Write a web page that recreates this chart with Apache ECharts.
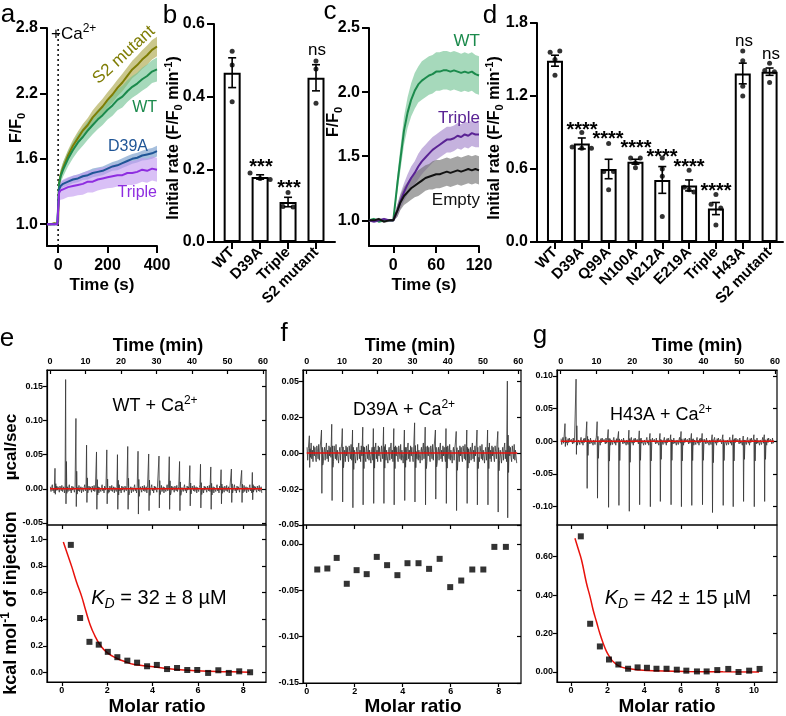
<!DOCTYPE html>
<html>
<head>
<meta charset="utf-8">
<script src="https://cdn.jsdelivr.net/npm/echarts@6.0.0/dist/echarts.min.js"></script>
<style>
html, body { margin: 0; padding: 0; background: #fff; }
#chart { width: 786px; height: 716px; }
</style>
</head>
<body>
<div id="chart"></div>
<script>
const F = '"Liberation Sans", Arial, Helvetica, sans-serif'

// ---- a: F/F0 traces
const aTime = [-45, -30, -15, -3, 0, 4, 10, 20, 40, 60, 80, 100, 120, 140, 160, 180, 200, 220, 240, 260, 280, 300, 320, 340, 360, 380, 400]
const aS2 = [1.0, 1.0, 1.01, 1.0, 1.02, 1.38, 1.45, 1.52, 1.63, 1.72, 1.79, 1.86, 1.91, 1.98, 2.03, 2.08, 2.14, 2.19, 2.25, 2.30, 2.36, 2.42, 2.46, 2.51, 2.55, 2.60, 2.63]
const aS2Err = [0.005, 0.005, 0.005, 0.005, 0.01, 0.04, 0.045, 0.05, 0.05, 0.055, 0.06, 0.06, 0.065, 0.065, 0.07, 0.07, 0.07, 0.075, 0.075, 0.08, 0.08, 0.08, 0.085, 0.085, 0.09, 0.09, 0.09]
const aWT = [1.0, 1.0, 1.0, 1.01, 1.02, 1.37, 1.44, 1.50, 1.60, 1.68, 1.75, 1.80, 1.86, 1.91, 1.96, 2.00, 2.05, 2.09, 2.14, 2.17, 2.22, 2.26, 2.29, 2.33, 2.36, 2.40, 2.42]
const aWTErr = [0.005, 0.005, 0.005, 0.005, 0.01, 0.05, 0.06, 0.065, 0.07, 0.075, 0.08, 0.08, 0.085, 0.085, 0.09, 0.09, 0.09, 0.095, 0.095, 0.1, 0.1, 0.1, 0.1, 0.105, 0.105, 0.105, 0.11]
const aD39A = [1.0, 1.0, 1.0, 1.0, 1.01, 1.32, 1.35, 1.37, 1.39, 1.41, 1.42, 1.44, 1.45, 1.47, 1.48, 1.49, 1.51, 1.53, 1.54, 1.56, 1.58, 1.60, 1.61, 1.63, 1.64, 1.65, 1.67]
const aD39AErr = [0.005, 0.005, 0.005, 0.005, 0.01, 0.03, 0.03, 0.03, 0.035, 0.035, 0.035, 0.035, 0.04, 0.04, 0.04, 0.04, 0.04, 0.04, 0.045, 0.045, 0.045, 0.045, 0.045, 0.045, 0.05, 0.05, 0.05]
const aTriple = [1.0, 1.0, 1.0, 1.0, 1.01, 1.29, 1.31, 1.32, 1.34, 1.35, 1.36, 1.37, 1.39, 1.39, 1.41, 1.42, 1.43, 1.44, 1.45, 1.45, 1.47, 1.47, 1.48, 1.50, 1.49, 1.51, 1.50]
const aTripleErr = [0.005, 0.005, 0.005, 0.005, 0.01, 0.08, 0.085, 0.09, 0.09, 0.095, 0.095, 0.1, 0.1, 0.1, 0.1, 0.1, 0.1, 0.105, 0.105, 0.105, 0.11, 0.11, 0.11, 0.11, 0.11, 0.11, 0.11]

// ---- b: initial rates
const bCats = ['WT', 'D39A', 'Triple', 'S2 mutant']
const bMean = [0.466, 0.179, 0.110, 0.452]
const bSem = [0.041, 0.006, 0.013, 0.036]
const bDots = [[0.525, 0.487, 0.386], [0.19, 0.175, 0.172], [0.136, 0.098, 0.096], [0.498, 0.476, 0.382]]

// ---- c: F/F0 traces, liposomes
const cTime = [-34, -27, -20, -13, -6, 0, 3, 6, 10, 15, 20, 25, 30, 35, 40, 45, 50, 55, 60, 65, 70, 75, 80, 85, 90, 95, 100, 105, 110, 115, 120]
const cWT = [1.0, 1.01, 0.99, 1.0, 1.0, 1.0, 1.15, 1.30, 1.48, 1.70, 1.84, 1.94, 2.01, 2.06, 2.09, 2.11, 2.13, 2.14, 2.16, 2.16, 2.17, 2.17, 2.16, 2.17, 2.16, 2.15, 2.16, 2.15, 2.16, 2.14, 2.13]
const cWTErr = [0.01, 0.01, 0.01, 0.01, 0.01, 0.01, 0.04, 0.07, 0.09, 0.11, 0.12, 0.13, 0.14, 0.14, 0.15, 0.15, 0.15, 0.15, 0.15, 0.15, 0.15, 0.15, 0.15, 0.15, 0.15, 0.15, 0.15, 0.15, 0.15, 0.15, 0.15]
const cTriple = [1.0, 0.99, 1.0, 1.01, 1.0, 1.0, 1.04, 1.08, 1.15, 1.22, 1.28, 1.33, 1.37, 1.42, 1.46, 1.49, 1.52, 1.55, 1.57, 1.59, 1.61, 1.63, 1.63, 1.64, 1.66, 1.65, 1.67, 1.66, 1.68, 1.67, 1.67]
const cTripleErr = [0.01, 0.01, 0.01, 0.01, 0.01, 0.01, 0.03, 0.05, 0.06, 0.07, 0.08, 0.09, 0.09, 0.1, 0.1, 0.1, 0.1, 0.1, 0.1, 0.1, 0.1, 0.1, 0.1, 0.1, 0.1, 0.1, 0.1, 0.1, 0.1, 0.1, 0.1]
const cEmpty = [1.0, 1.0, 1.01, 0.99, 1.0, 1.0, 1.04, 1.08, 1.14, 1.19, 1.22, 1.25, 1.27, 1.29, 1.31, 1.33, 1.34, 1.35, 1.36, 1.36, 1.37, 1.38, 1.37, 1.38, 1.39, 1.38, 1.39, 1.40, 1.39, 1.40, 1.39]
const cEmptyErr = [0.01, 0.01, 0.01, 0.01, 0.01, 0.01, 0.03, 0.05, 0.06, 0.07, 0.08, 0.09, 0.09, 0.1, 0.1, 0.1, 0.1, 0.11, 0.11, 0.11, 0.11, 0.11, 0.11, 0.11, 0.11, 0.11, 0.11, 0.11, 0.11, 0.11, 0.11]

// ---- d: initial rates, mutants
const dCats = ['WT', 'D39A', 'Q99A', 'N100A', 'N212A', 'E219A', 'Triple', 'H43A', 'S2 mutant']
const dMean = [1.49, 0.81, 0.60, 0.66, 0.51, 0.465, 0.275, 1.385, 1.40]
const dSem = [0.045, 0.045, 0.08, 0.02, 0.11, 0.045, 0.05, 0.085, 0.03]
const dDots = [[1.56, 1.57, 1.50, 1.37], [0.90, 0.78, 0.77, 0.77], [0.81, 0.58, 0.58, 0.43], [0.69, 0.69, 0.65, 0.61],
  [0.69, 0.60, 0.54, 0.21], [0.59, 0.45, 0.43, 0.41], [0.39, 0.31, 0.28, 0.14], [1.57, 1.49, 1.28, 1.20], [1.47, 1.41, 1.40, 1.31]]

// ---- e-g: ITC, raw injections (min) and heat (kcal/mol)
const eInj = [1.4, 4.4, 7.3, 10.3, 13.1, 16.0, 19.0, 21.9, 24.8, 27.8, 30.7, 33.6, 36.5, 39.4, 42.4, 45.3, 48.2, 51.1, 54.0, 57.0]
const eUp = [0.030, 0.160, 0.103, 0.064, 0.054, 0.057, 0.050, 0.062, 0.055, 0.051, 0.048, 0.047, 0.040, 0.034, 0.036, 0.032, 0.028, 0.029, 0.027, 0.024]
const eDown = [-0.008, -0.022, -0.026, -0.02, -0.03, -0.022, -0.03, -0.03, -0.037, -0.032, -0.028, -0.03, -0.032, -0.025, -0.028, -0.03, -0.022, -0.02, -0.02, -0.016]
const eWiggle = [0.003, -0.004, 0.002, 0.006, -0.003, 0.001, -0.006, 0.004, -0.002, 0.003, -0.001, -0.005, 0.004, 0.002, -0.003, 0.005, -0.004, 0.0, 0.003, -0.006, 0.002]
const eRatio = [0.40, 0.81, 1.22, 1.63, 2.03, 2.45, 2.89, 3.32, 3.76, 4.19, 4.64, 5.08, 5.53, 5.97, 6.45, 6.90, 7.36, 7.82, 8.30]
const eHeat = [0.958, 0.41, 0.231, 0.21, 0.156, 0.116, 0.09, 0.075, 0.048, 0.058, 0.027, 0.035, 0.02, 0.02, -0.002, 0.018, -0.002, 0.01, 0.003]
const eFitX = [0.07, 0.25, 0.44, 0.65, 0.88, 1.05, 1.25, 1.45, 1.69, 2.0, 2.42, 2.8, 3.15, 3.6, 4.04, 4.7, 5.36, 6.5, 7.5, 8.3]
const eFitY = [0.98, 0.89, 0.795, 0.68, 0.57, 0.47, 0.36, 0.28, 0.208, 0.15, 0.108, 0.082, 0.063, 0.052, 0.045, 0.03, 0.02, 0.01, 0.006, 0.003]

const fInj = [0.75, 4.2, 7.1, 10.1, 13.0, 15.9, 18.9, 21.8, 24.7, 27.7, 30.6, 33.6, 36.5, 39.5, 42.4, 45.4, 48.3, 51.3, 54.2, 56.9]
const fUp = [0.012, 0.016, 0.02, 0.017, 0.016, 0.018, 0.017, 0.018, 0.017, 0.016, 0.021, 0.018, 0.016, 0.017, 0.015, 0.016, 0.016, 0.016, 0.015, 0.05]
const fDown = [-0.01, -0.028, -0.033, -0.034, -0.038, -0.036, -0.035, -0.035, -0.036, -0.033, -0.034, -0.036, -0.032, -0.035, -0.04, -0.035, -0.036, -0.036, -0.041, -0.045]
const fWiggle = [0.004, -0.005, 0.003, 0.007, -0.004, 0.002, -0.006, 0.005, -0.002, 0.004, -0.003, -0.006, 0.005, 0.001, -0.004, 0.006, -0.005, 0.002, 0.003, -0.007, 0.001]
const fRatio = [0.44, 0.86, 1.25, 1.67, 2.08, 2.5, 2.92, 3.35, 3.78, 4.2, 4.66, 5.1, 5.54, 5.98, 6.44, 6.9, 7.36, 7.82, 8.3]
const fHeat = [-0.0276, -0.0265, -0.0151, -0.043, -0.0283, -0.0326, -0.014, -0.0229, -0.0337, -0.0208, -0.0208, -0.0269, -0.0161, -0.0466, -0.0395, -0.0276, -0.0276, -0.0032, -0.0032]

const gInj = [1.2, 4.3, 7.3, 10.2, 13.3, 16.2, 19.1, 22.0, 25.0, 27.8, 30.8, 33.7, 36.6, 39.6, 42.4, 45.4, 48.2, 51.1, 54.1, 57.0]
const gUp = [0.027, 0.095, 0.03, 0.03, 0.018, 0.015, 0.017, 0.016, 0.012, 0.012, 0.01, 0.015, 0.012, 0.012, 0.01, 0.01, 0.01, 0.008, 0.01, 0.01]
const gDown = [-0.008, -0.02, -0.072, -0.087, -0.101, -0.098, -0.107, -0.097, -0.1, -0.092, -0.097, -0.1, -0.098, -0.097, -0.109, -0.098, -0.1, -0.092, -0.1, -0.092]
const gWiggle = [0.004, -0.005, 0.002, 0.006, -0.003, 0.001, -0.006, 0.004, -0.002, 0.005, -0.001, -0.004, 0.003, 0.002, -0.004, 0.005, -0.003, 0.001, 0.004, -0.006, 0.002]
const gRatio = [0.54, 1.05, 1.58, 2.08, 2.59, 3.12, 3.64, 4.15, 4.67, 5.22, 5.78, 6.3, 6.88, 7.41, 7.99, 8.59, 9.15, 9.73, 10.3]
const gHeat = [0.706, 0.251, 0.133, 0.065, 0.039, 0.017, 0.024, 0.022, 0.017, 0.017, 0.012, 0.007, 0.003, 0.003, 0.01, 0.016, 0.0, 0.007, 0.016]
const gFitX = [0.22, 0.4, 0.58, 0.85, 1.05, 1.21, 1.4, 1.58, 1.76, 1.94, 2.12, 2.3, 2.66, 3.1, 3.57, 4.5, 6.29, 8.3, 10.27]
const gFitY = [0.696, 0.64, 0.583, 0.462, 0.39, 0.324, 0.26, 0.2, 0.15, 0.107, 0.078, 0.055, 0.029, 0.018, 0.012, 0.006, 0.003, 0.001, 0.0]

const T60 = [0, 10, 20, 30, 40, 50, 60]

const chart = echarts.init(document.getElementById('chart'))

const grids = [
  { left: 47, top: 28, width: 110, height: 218 },   // a
  { left: 214, top: 24, width: 121, height: 218 },  // b
  { left: 369, top: 28, width: 110, height: 218 },  // c
  { left: 537, top: 23, width: 246, height: 219 },  // d
  { left: 47, top: 370, width: 219, height: 155 },  // e top
  { left: 47, top: 525, width: 219, height: 157 },  // e bottom
  { left: 303, top: 370, width: 218, height: 155 }, // f top
  { left: 303, top: 525, width: 218, height: 158 }, // f bottom
  { left: 557, top: 370, width: 220, height: 155 }, // g top
  { left: 557, top: 525, width: 220, height: 157 }  // g bottom
].map((g, i) => Object.assign(g, {
  containLabel: false, outerBoundsMode: 'none',
  show: i >= 4, borderColor: '#000', borderWidth: 1.2, backgroundColor: 'transparent'
}))

const xAxis = []
const yAxis = []
const X = o => xAxis.push(o) - 1
const Y = o => yAxis.push(o) - 1

function ax(grid, min, max, ticks, o = {}) {
  return {
    gridIndex: grid, type: 'value', min, max, position: o.pos,
    axisLine: { show: o.line !== false, onZero: false, lineStyle: { color: '#000', width: o.lw || 2 } },
    axisTick: { show: true, inside: !!o.inside, length: o.tl || 7, customValues: ticks, lineStyle: { color: '#000', width: o.lw || 2 } },
    axisLabel: {
      show: !!o.fmt, customValues: ticks, formatter: o.fmt, rotate: o.rot || 0, margin: o.margin || 9,
      color: '#000', fontFamily: F, fontWeight: 'bold', fontSize: o.fs || 16
    },
    splitLine: { show: false }
  }
}

const fix1 = v => v.toFixed(1)
const fix2 = v => v.toFixed(2)

const aX = X(ax(0, -45, 400, [0, 200, 400], { fmt: String, margin: 12 }))
const aY = Y(ax(0, 0.8, 2.8, [1.0, 1.6, 2.2, 2.8], { fmt: fix1 }))
const bX = X(ax(1, -0.65, 3.68, [0, 1, 2, 3], { fmt: v => bCats[v], rot: 45, fs: 15, margin: 8 }))
const bY = Y(ax(1, 0, 0.6, [0, 0.2, 0.4, 0.6], { fmt: fix1 }))
const cX = X(ax(2, -34, 120, [0, 60, 120], { fmt: String, margin: 12 }))
const cY = Y(ax(2, 0.8, 2.5, [1.0, 1.5, 2.0, 2.5], { fmt: fix1 }))
const dX = X(ax(3, -0.67, 8.5, [0, 1, 2, 3, 4, 5, 6, 7, 8], { fmt: v => dCats[v], rot: 45, fs: 15, margin: 8 }))
const dY = Y(ax(3, 0, 1.8, [0, 0.6, 1.2, 1.8], { fmt: fix1 }))

const it = { lw: 1.2, tl: 4, fs: 9, margin: 4 }
const fLabels = { '-0.05': '-0.05', '-0.025': '-0.02', '0': '0.00', '0.025': '0.02', '0.05': '0.05' }

function itcAxes(gTop, gBot, tRange, uRange, uTicks, uFmt, mRange, mTicks, lRange, lTicks, lFmt) {
  const tx = X(ax(gTop, tRange[0], tRange[1], T60, { ...it, pos: 'top', inside: true, fmt: String }))
  const uy = Y(ax(gTop, uRange[0], uRange[1], uTicks, { ...it, pos: 'left', fmt: uFmt }))
  Y(ax(gTop, uRange[0], uRange[1], uTicks, { ...it, pos: 'right', inside: true, line: false }))
  const mx = X(ax(gBot, mRange[0], mRange[1], mTicks, { ...it, pos: 'bottom', fmt: String }))
  X(ax(gBot, mRange[0], mRange[1], mTicks, { ...it, pos: 'top', inside: true, line: false }))
  const ly = Y(ax(gBot, lRange[0], lRange[1], lTicks, { ...it, pos: 'left', fmt: lFmt }))
  Y(ax(gBot, lRange[0], lRange[1], lTicks, { ...it, pos: 'right', inside: true, line: false }))
  return { tx, uy, mx, ly }
}

const eAx = itcAxes(4, 5, [-0.85, 60.85], [-0.053, 0.174], [-0.05, 0, 0.05, 0.10, 0.15], fix2,
  [-0.65, 9.0], [0, 2, 4, 6, 8], [-0.07, 1.107], [0, 0.2, 0.4, 0.6, 0.8, 1.0], fix1)
const fAx = itcAxes(6, 7, [-1.05, 60.77], [-0.05, 0.0577], [-0.05, -0.025, 0, 0.025, 0.05], v => fLabels[String(v)],
  [-0.154, 8.93], [0, 2, 4, 6, 8], [-0.15, 0.0204], [-0.15, -0.10, -0.05, 0], fix2)
const gAx = itcAxes(8, 9, [-1.04, 60.56], [-0.128, 0.109], [-0.10, -0.05, 0, 0.05, 0.10], fix2,
  [-0.76, 11.25], [0, 2, 4, 6, 8, 10], [-0.052, 0.765], [0, 0.2, 0.4, 0.6], fix2)

// ---------- series helpers
// mean ± sem band as one polygon, placed through the axes
function band(xi, yi, t, mean, err, color) {
  return {
    type: 'custom', xAxisIndex: xi, yAxisIndex: yi, silent: true, z: 1, clip: true,
    data: [[t[0], mean[0]]],
    renderItem(params, api) {
      const upper = t.map((x, i) => api.coord([x, mean[i] + err[i]]))
      const lower = t.map((x, i) => api.coord([x, mean[i] - err[i]])).reverse()
      return { type: 'polygon', shape: { points: upper.concat(lower) }, style: { fill: color, opacity: 0.62 } }
    }
  }
}
function trace(xi, yi, t, mean, color) {
  return { type: 'line', xAxisIndex: xi, yAxisIndex: yi, symbol: 'none', z: 4,
    lineStyle: { color, width: 2 }, data: t.map((x, i) => [x, mean[i]]) }
}
function bars(xi, yi, mean, w) {
  return { type: 'bar', xAxisIndex: xi, yAxisIndex: yi, barWidth: w, z: 2,
    itemStyle: { color: '#fff', borderColor: '#000', borderWidth: 2 },
    data: mean.map((v, i) => [i, v]) }
}
function errBars(xi, yi, mean, sem, cap) {
  return {
    type: 'custom', xAxisIndex: xi, yAxisIndex: yi, z: 5,
    encode: { x: 0, y: [1, 2] },
    data: mean.map((m, i) => [i, m - sem[i], m + sem[i]]),
    renderItem(params, api) {
      const lo = api.coord([api.value(0), api.value(1)])
      const hi = api.coord([api.value(0), api.value(2)])
      const st = { stroke: '#000', lineWidth: 1.6 }
      return { type: 'group', children: [
        { type: 'line', shape: { x1: lo[0], y1: lo[1], x2: hi[0], y2: hi[1] }, style: st },
        { type: 'line', shape: { x1: lo[0] - cap, y1: lo[1], x2: lo[0] + cap, y2: lo[1] }, style: st },
        { type: 'line', shape: { x1: hi[0] - cap, y1: hi[1], x2: hi[0] + cap, y2: hi[1] }, style: st }
      ] }
    }
  }
}
// spread dots sideways when values nearly coincide
function swarm(vals, thr) {
  return vals.map((v, i) => {
    const near = vals.map((w, j) => [w, j]).filter(([w]) => Math.abs(w - v) < thr)
    if (near.length < 2) return 0
    const k = near.findIndex(([, j]) => j === i)
    return (k - (near.length - 1) / 2) * 0.36
  })
}
function dots(xi, yi, groups, thr) {
  const data = []
  groups.forEach((vals, i) => {
    const off = swarm(vals, thr)
    vals.forEach((v, j) => data.push([i + off[j], v]))
  })
  return { type: 'scatter', xAxisIndex: xi, yAxisIndex: yi, symbolSize: 5, z: 6,
    itemStyle: { color: '#000' }, data }
}
function itcTrace(inj, up, dn, wig) {
  const pts = []
  let k = 0
  const nextWig = () => wig[k++ % wig.length]
  for (let t = 0.1; t < inj[0] - 0.2; t += 0.18) pts.push([t, nextWig()])
  inj.forEach((t0, i) => {
    pts.push([t0, up[i]])
    pts.push([t0 + 0.1, dn[i]])
    pts.push([t0 + 0.22, up[i] * 0.25])
    pts.push([t0 + 0.34, dn[i] * 0.3])
    const end = i + 1 < inj.length ? inj[i + 1] - 0.15 : 59.7
    for (let t = t0 + 0.5; t < end; t += 0.18) pts.push([t, nextWig()])
  })
  return pts
}
function itcSeries(axs, inj, up, dn, wig, ratio, heat, fitX, fitY) {
  const s = [
    { type: 'line', xAxisIndex: axs.tx, yAxisIndex: axs.uy, symbol: 'none', z: 3,
      lineStyle: { color: '#333', width: 0.8 }, data: itcTrace(inj, up, dn, wig) },
    { type: 'line', xAxisIndex: axs.tx, yAxisIndex: axs.uy, symbol: 'none', z: 4,
      lineStyle: { color: '#e8120c', width: 1.6 }, data: [[0, 0], [59.7, 0]] },
    { type: 'scatter', xAxisIndex: axs.mx, yAxisIndex: axs.ly, symbol: 'rect', symbolSize: 6, z: 5,
      itemStyle: { color: '#000' }, data: ratio.map((x, i) => [x, heat[i]]) }
  ]
  if (fitX) {
    s.push({ type: 'line', xAxisIndex: axs.mx, yAxisIndex: axs.ly, symbol: 'none', smooth: true, z: 4,
      lineStyle: { color: '#e8120c', width: 1.5 }, data: fitX.map((x, i) => [x, fitY[i]]) })
  }
  return s
}

const colS2 = '#7f7d05', colS2b = '#aaa545'
const colWT = '#1b8a4c', colWTb = '#6fc191'
const colD39 = '#1f5596', colD39b = '#6f98c8'
const colTri = '#8e2de0', colTrib = '#c29af0'
const colTri2 = '#5a2394', colTri2b = '#a283c9'
const colEmp = '#111111', colEmpb = '#6e6e6e'

const series = [
  band(aX, aY, aTime, aS2, aS2Err, colS2b),
  band(aX, aY, aTime, aWT, aWTErr, colWTb),
  band(aX, aY, aTime, aD39A, aD39AErr, colD39b),
  band(aX, aY, aTime, aTriple, aTripleErr, colTrib),
  trace(aX, aY, aTime, aS2, colS2),
  trace(aX, aY, aTime, aWT, colWT),
  trace(aX, aY, aTime, aD39A, colD39),
  trace(aX, aY, aTime, aTriple, colTri),
  { type: 'line', xAxisIndex: aX, yAxisIndex: aY, symbol: 'none', z: 1,
    lineStyle: { color: '#000', width: 1.5, type: [2, 3] }, data: [[0, 0.8], [0, 2.8]] },

  bars(bX, bY, bMean, 17), errBars(bX, bY, bMean, bSem, 4), dots(bX, bY, bDots, 0.02),

  band(cX, cY, cTime, cWT, cWTErr, colWTb),
  band(cX, cY, cTime, cTriple, cTripleErr, colTri2b),
  band(cX, cY, cTime, cEmpty, cEmptyErr, colEmpb),
  trace(cX, cY, cTime, cWT, colWT),
  trace(cX, cY, cTime, cTriple, colTri2),
  trace(cX, cY, cTime, cEmpty, colEmp),

  bars(dX, dY, dMean, 16), errBars(dX, dY, dMean, dSem, 4), dots(dX, dY, dDots, 0.035),

  ...itcSeries(eAx, eInj, eUp, eDown, eWiggle, eRatio, eHeat, eFitX, eFitY),
  ...itcSeries(fAx, fInj, fUp, fDown, fWiggle, fRatio, fHeat),
  ...itcSeries(gAx, gInj, gUp, gDown, gWiggle, gRatio, gHeat, gFitX, gFitY)
]

// ---------- text
function rich(fs, bold, color) {
  const small = Math.round(fs * 0.68)
  const base = { fontFamily: F, fontSize: small, fontWeight: bold ? 'bold' : 'normal', fill: color || '#000', lineHeight: small }
  return {
    s: Object.assign({ verticalAlign: 'bottom' }, base),
    p: Object.assign({ verticalAlign: 'top' }, base),
    k: { fontFamily: F, fontSize: fs, fontStyle: 'italic', fill: '#000', lineHeight: Math.round(fs * 1.3) },
    d: Object.assign({}, base, { fontStyle: 'italic', verticalAlign: 'bottom' })
  }
}
function txt(x, y, text, o = {}) {
  const fs = o.fs || 16
  return {
    type: 'text', x, y, rotation: o.rot || 0, z: 100, silent: true,
    style: {
      text, fill: o.color || '#000', fontFamily: F, fontSize: fs,
      fontWeight: o.bold ? 'bold' : 'normal',
      align: o.align || 'center', verticalAlign: 'middle',
      textAlign: o.align || 'center', textVerticalAlign: 'middle',
      lineHeight: Math.round(fs * 1.3), rich: rich(fs, o.bold, o.color)
    }
  }
}
const UP = Math.PI / 2
const graphic = [
  txt(8, 15, 'a', { fs: 26 }), txt(170, 16, 'b', { fs: 26 }), txt(330, 12, 'c', { fs: 26 }),
  txt(490, 16, 'd', { fs: 26 }), txt(7, 339, 'e', { fs: 26 }), txt(284, 334, 'f', { fs: 26 }),
  txt(540, 336, 'g', { fs: 26 }),

  txt(17, 128, 'F/F{s|0}', { fs: 16, bold: true, rot: UP }),
  txt(51, 34, '+Ca{p|2+}', { fs: 17, align: 'left' }),
  txt(102, 285, 'Time (s)', { fs: 17, bold: true }),
  txt(124, 55, 'S2 mutant', { fs: 17, color: colS2, rot: 0.74 }),
  txt(157, 108, 'WT', { fs: 16, color: colWT, align: 'right' }),
  txt(148, 147, 'D39A', { fs: 16, color: colD39, align: 'right' }),
  txt(157, 193, 'Triple', { fs: 16, color: colTri, align: 'right' }),

  txt(174, 138, 'Initial rate (F/F{s|0} min{p|-1})', { fs: 16, bold: true, rot: UP }),
  txt(261, 167, '***', { fs: 20, bold: true }),
  txt(289, 188, '***', { fs: 20, bold: true }),
  txt(317, 50, 'ns', { fs: 17 }),

  txt(334, 122, 'F/F{s|0}', { fs: 16, bold: true, rot: UP }),
  txt(424, 285, 'Time (s)', { fs: 17, bold: true }),
  txt(480, 41, 'WT', { fs: 17, color: colWT, align: 'right' }),
  txt(480, 118, 'Triple', { fs: 17, color: colTri2, align: 'right' }),
  txt(480, 200, 'Empty', { fs: 17, color: '#111', align: 'right' }),

  txt(495, 138, 'Initial rate (F/F{s|0} min{p|-1})', { fs: 16, bold: true, rot: UP }),
  ...[[582, 126], [608, 135], [636, 144], [662, 153], [689, 163], [716, 187]]
    .map(([x, y]) => txt(x, y + 4, '****', { fs: 20, bold: true })),
  txt(744, 41, 'ns', { fs: 17 }), txt(771, 54, 'ns', { fs: 17 }),

  txt(158, 346, 'Time (min)', { fs: 18, bold: true }),
  txt(410, 346, 'Time (min)', { fs: 18, bold: true }),
  txt(697, 346, 'Time (min)', { fs: 18, bold: true }),
  txt(157, 707, 'Molar ratio', { fs: 19, bold: true }),
  txt(413, 707, 'Molar ratio', { fs: 19, bold: true }),
  txt(667, 707, 'Molar ratio', { fs: 19, bold: true }),
  txt(11, 447, 'µcal/sec', { fs: 17, bold: true, rot: UP }),
  txt(11, 603, 'kcal mol{p|-1} of injection', { fs: 18, bold: true, rot: UP }),

  txt(155, 406, 'WT + Ca{p|2+}', { fs: 18 }),
  txt(404, 410, 'D39A + Ca{p|2+}', { fs: 18 }),
  txt(661, 415, 'H43A + Ca{p|2+}', { fs: 18 }),
  txt(159, 598, '{k|K}{d|D} = 32 ± 8 µM', { fs: 20 }),
  txt(678, 598, '{k|K}{d|D} = 42 ± 15 µM', { fs: 20 })
]

chart.setOption({
  animation: false,
  backgroundColor: '#fff',
  grid: grids,
  xAxis,
  yAxis,
  series,
  graphic
})
</script>
</body>
</html>
